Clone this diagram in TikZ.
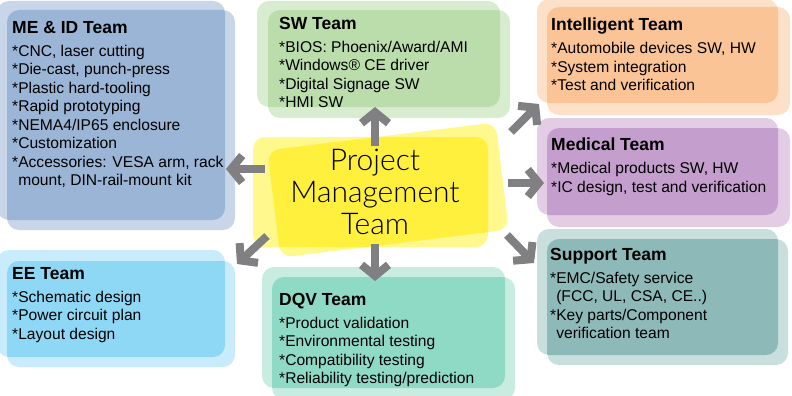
\documentclass[tikz,border=0pt]{standalone}
\usepackage{fontspec}
\setmainfont{Liberation Sans}
\newfontfamily\pmfont{Lato Light}
\usetikzlibrary{arrows.meta}

\definecolor{melight}{RGB}{201,214,233}
\definecolor{medark}{RGB}{155,181,214}
\definecolor{swlight}{RGB}{216,236,208}
\definecolor{swdark}{RGB}{186,221,171}
\definecolor{inlight}{RGB}{252,224,200}
\definecolor{indark}{RGB}{250,196,150}
\definecolor{mdlight}{RGB}{226,205,228}
\definecolor{mddark}{RGB}{196,158,204}
\definecolor{sulight}{RGB}{200,223,222}
\definecolor{sudark}{RGB}{141,185,184}
\definecolor{eelight}{RGB}{200,236,251}
\definecolor{eedark}{RGB}{142,216,245}
\definecolor{dqlight}{RGB}{200,237,224}
\definecolor{dqdark}{RGB}{142,218,196}
\definecolor{ylight}{RGB}{255,248,140}
\definecolor{ydark}{RGB}{255,240,62}
\definecolor{arrowgray}{RGB}{128,128,130}

\tikzset{
  teamtext/.style={anchor=north west, inner sep=0pt, align=left, font=\fontsize{15.6}{18.5}\selectfont},
  bigarrow/.style={draw=arrowgray, line width=8pt, -{Straight Barb[length=11pt,width=27pt]}},
}

% two overlapping rounded boxes: #1 back, #2 front, #3 light, #4 overlap
\newcommand{\teambox}[4]{%
  \fill[#3,rounded corners=12pt] #1;
  \fill[#3,rounded corners=12pt] #2;
  \begin{scope}
    \clip[rounded corners=12pt] #1;
    \fill[#4,rounded corners=12pt] #2;
  \end{scope}}
\newcommand{\teamhead}[1]{{\bfseries\fontsize{17.5}{18.5}\selectfont #1}\\[4.5pt]}

\begin{document}
\begin{tikzpicture}[x=1pt,y=-1pt]
    \useasboundingbox (0,0) rectangle (792,396);

    % Team boxes
    \teambox{(-3,1) rectangle (225,220)}{(7,10) rectangle (235,230)}{melight}{medark}
    \teambox{(257,1) rectangle (500,107)}{(268,10) rectangle (510,118)}{swlight}{swdark}
    \teambox{(537,-1) rectangle (778,103)}{(547,7) rectangle (790,115)}{inlight}{indark}
    \teambox{(537,118) rectangle (778,215)}{(547,128) rectangle (790,227)}{mdlight}{mddark}
    \teambox{(537,229) rectangle (778,355)}{(547,239) rectangle (788,365)}{sulight}{sudark}
    \teambox{(-3,250) rectangle (225,357)}{(7,261) rectangle (235,367)}{eelight}{eedark}
    \teambox{(262,267) rectangle (505,388)}{(272,277) rectangle (515,400)}{dqlight}{dqdark}

    % Project management box
    \fill[ylight,rounded corners=12pt] (253,137) rectangle (488,247);
    \fill[ylight,rounded corners=12pt,shift={(388,190)},rotate=7] (-115,-54) rectangle (115,54);
    \begin{scope}
        \clip[rounded corners=12pt] (253,137) rectangle (488,247);
        \fill[ydark,rounded corners=12pt,shift={(388,190)},rotate=7] (-115,-54) rectangle (115,54);
    \end{scope}

    % Texts
    \node[font=\pmfont\fontsize{30}{32}\selectfont, align=center, inner sep=0pt, anchor=north] (pm) at (375,149) {Project\\Management\\Team};

    \node[teamtext] (me) at (12,21) {\teamhead{ME \& ID Team}*CNC, laser cutting\\*Die-cast, punch-press\\*Plastic hard-tooling\\*Rapid prototyping\\*NEMA4/IP65 enclosure\\*Customization\\*Accessories: VESA arm, rack\\\phantom{*}mount, DIN-rail-mount kit};
    \node[teamtext] (sw) at (279,17) {\teamhead{SW Team}*BIOS: Phoenix/Award/AMI\\*Windows® CE driver\\*Digital Signage SW\\*HMI SW};
    \node[teamtext] (intel) at (551,18) {\teamhead{Intelligent Team}*Automobile devices SW, HW\\*System integration\\*Test and verification};
    \node[teamtext] (med) at (551,138) {\teamhead{Medical Team}*Medical products SW, HW\\*IC design, test and verification};
    \node[teamtext] (sup) at (550,248) {\teamhead{Support Team}*EMC/Safety service\\\phantom{*}(FCC, UL, CSA, CE..)\\*Key parts/Component\\\phantom{*}verification team};
    \node[teamtext] (ee) at (12,267) {\teamhead{EE Team}*Schematic design\\*Power circuit plan\\*Layout design};
    \node[teamtext] (dqv) at (279,293) {\teamhead{DQV Team}*Product validation\\*Environmental testing\\*Compatibility testing\\*Reliability testing/prediction};

    % Arrow ends
    \coordinate (pmN) at (375,146);   \coordinate (swS) at (375,107);
    \coordinate (pmS) at (375,244);   \coordinate (dqvN) at (375,281);
    \coordinate (pmW) at (265,169);   \coordinate (meE) at (226,169);
    \coordinate (pmSW) at (267,236);  \coordinate (eeNE) at (237,264);
    \coordinate (pmNE) at (511,132);  \coordinate (intelSW) at (539,104);
    \coordinate (pmE) at (508,183);   \coordinate (medW) at (544,183);
    \coordinate (pmSE) at (507,235);  \coordinate (supNW) at (534,263);

    % Arrows
    \draw[bigarrow] (pmN) -- (swS);
    \draw[bigarrow] (pmS) -- (dqvN);
    \draw[bigarrow] (pmW) -- (meE);
    \draw[bigarrow] (pmSW) -- (eeNE);
    \draw[bigarrow] (pmNE) -- (intelSW);
    \draw[bigarrow] (pmE) -- (medW);
    \draw[bigarrow] (pmSE) -- (supNW);
\end{tikzpicture}
\end{document}
